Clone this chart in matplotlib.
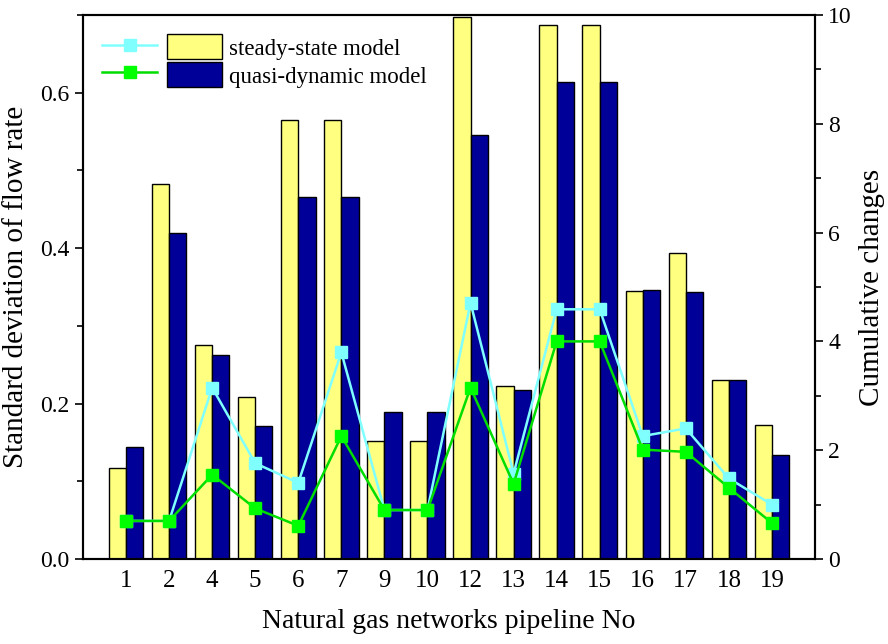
import matplotlib
matplotlib.use("Agg")
import matplotlib.pyplot as plt
from matplotlib.legend_handler import HandlerTuple
from matplotlib.ticker import MultipleLocator, FormatStrFormatter
import numpy as np

plt.rcParams.update({
    "font.family": "serif",
    "font.serif": ["Liberation Serif", "DejaVu Serif"],
})

# --- dados ---
pipelines = ["1", "2", "4", "5", "6", "7", "9", "10", "12", "13",
             "14", "15", "16", "17", "18", "19"]

std_steady = [0.117, 0.483, 0.276, 0.209, 0.565, 0.565, 0.152, 0.152,
              0.698, 0.223, 0.687, 0.687, 0.345, 0.394, 0.230, 0.172]
std_quasi = [0.144, 0.420, 0.263, 0.171, 0.466, 0.466, 0.189, 0.189,
             0.546, 0.218, 0.614, 0.614, 0.346, 0.343, 0.230, 0.134]

cum_steady = [0.70, 0.70, 3.15, 1.76, 1.40, 3.80, 0.90, 0.90,
              4.71, 1.57, 4.59, 4.59, 2.26, 2.40, 1.48, 1.00]
cum_quasi = [0.70, 0.70, 1.55, 0.93, 0.61, 2.26, 0.90, 0.90,
             3.15, 1.38, 4.00, 4.00, 2.01, 1.97, 1.31, 0.66]

# --- cores ---
YELLOW = "#FFFF80"
NAVY = "#000099"
CYAN = "#80FFFF"
GREEN = "#00FF00"
LINE_GREEN = "#00DD00"

x = np.arange(len(pipelines))
w = 0.4

fig = plt.figure(figsize=(8.88, 6.44), dpi=100)
ax = fig.add_axes([83 / 888, 1 - 559 / 644, (815 - 83) / 888, (559 - 15) / 644])
ax2 = ax.twinx()

b1 = ax.bar(x - w / 2, std_steady, width=w, color=YELLOW, edgecolor="black", linewidth=1.0)
b2 = ax.bar(x + w / 2, std_quasi, width=w, color=NAVY, edgecolor="black", linewidth=1.0)

l1, = ax2.plot(x, cum_steady, color=CYAN, lw=1.8, marker="s", ms=8,
               mfc=CYAN, mec=CYAN, zorder=3)
l2, = ax2.plot(x, cum_quasi, color=LINE_GREEN, lw=1.8, marker="s", ms=8,
               mfc=GREEN, mec=GREEN, zorder=4)

ax.set_xlim(-1, 16)
ax.set_ylim(0, 0.7)
ax2.set_ylim(0, 10)

ax.set_xticks(x)
ax.set_xticklabels(pipelines)
ax.yaxis.set_major_locator(MultipleLocator(0.2))
ax.yaxis.set_minor_locator(MultipleLocator(0.1))
ax.yaxis.set_major_formatter(FormatStrFormatter("%.1f"))
ax2.yaxis.set_major_locator(MultipleLocator(2))
ax2.yaxis.set_minor_locator(MultipleLocator(1))

ax.tick_params(axis="x", length=0, labelsize=18, pad=8)
ax.tick_params(axis="y", which="major", direction="out", length=6, width=1.2, labelsize=17)
ax.tick_params(axis="y", which="minor", direction="out", length=4, width=1.2)
ax2.tick_params(axis="y", which="major", direction="out", length=6, width=1.2, labelsize=17)
ax2.tick_params(axis="y", which="minor", direction="out", length=4, width=1.2)

for a in (ax, ax2):
    for s in a.spines.values():
        s.set_linewidth(1.5)

ax.set_xlabel("Natural gas networks pipeline No", fontsize=20, labelpad=12)
ax.set_ylabel("Standard deviation of flow rate", fontsize=21, labelpad=8)
ax2.set_ylabel("Cumulative changes", fontsize=21, labelpad=5)

ax2.legend(
    [(l1, b1), (l2, b2)],
    ["steady-state model", "quasi-dynamic model"],
    handler_map={tuple: HandlerTuple(ndivide=None, pad=0.4)},
    loc="upper left",
    bbox_to_anchor=(0.0, 1.0),
    frameon=False,
    fontsize=16.5,
    handlelength=5.2,
    handleheight=1.3,
    handletextpad=0.3,
    labelspacing=0.12,
    borderpad=0.35,
)

fig.savefig("out.png", dpi=100)
